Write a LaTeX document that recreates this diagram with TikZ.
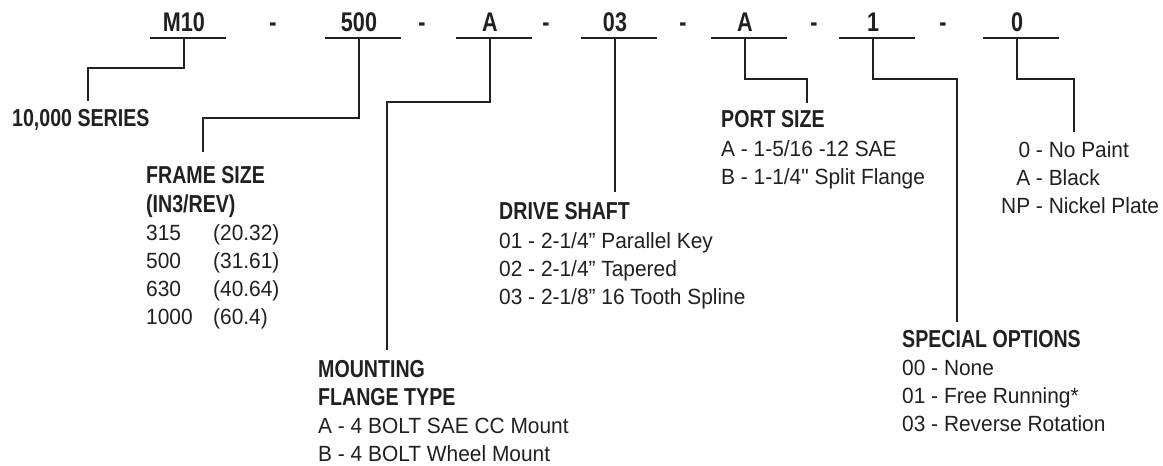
\documentclass[tikz,border=0pt]{standalone}
\usepackage{fontspec}
\usepackage{tikz}
\usetikzlibrary{positioning, calc}
\newfontfamily\codefont[FakeStretch=0.80]{Liberation Sans}
\newfontfamily\bodyfont[FakeStretch=0.95]{Liberation Sans}
\definecolor{ink}{HTML}{231F20}
\newcommand{\hd}{\codefont\fontsize{24.5}{28}\selectfont\bfseries}

\begin{document}
\begin{tikzpicture}[x=1pt, y=-1pt,
  code/.style={font=\codefont\fontsize{27}{30}\selectfont\bfseries, text=ink,
    inner xsep=0pt, inner ysep=6pt, anchor=south},
  lbl/.style={font=\bodyfont\fontsize{22}{28}\selectfont, text=ink,
    align=left, inner sep=0pt, anchor=north west},
  rule/.style={draw=ink, line width=2.4pt},
  lead/.style={draw=ink, line width=2.4pt, line join=miter}]
  \useasboundingbox (0,0) rectangle (1163,466);

  % model code
  \node[code] (m10) at (184,38) {M10};
  \node[code] (sz)  at (359,38) {500};
  \node[code] (mt)  at (490,38) {A};
  \node[code] (ds)  at (615,38) {03};
  \node[code] (ps)  at (745,38) {A};
  \node[code] (so)  at (873,38) {1};
  \node[code] (pt)  at (1017,38) {0};
  \foreach \n in {m10,sz,mt,ds,ps,so,pt}
    \draw[rule] ([xshift=-34pt]\n.south) -- ([xshift=42pt]\n.south);
  \foreach \x [count=\i] in {273,422,546,683,814,943}
    \node[code] (dash\i) at (\x,38) {-};

  % option blocks
  \node[lbl, anchor=base west] (series) at (12,126) {\hd 10,000 SERIES};
  \node[lbl] (frame) at (146,166) {{\hd FRAME SIZE}\\[1.5pt]{\hd (IN3/REV)}\\
    \makebox[67pt][l]{315}(20.32)\\ \makebox[67pt][l]{500}(31.61)\\
    \makebox[67pt][l]{630}(40.64)\\ \makebox[67pt][l]{1000}(60.4)};
  \node[lbl] (mount) at (318,360) {{\hd MOUNTING}\\{\hd FLANGE TYPE}\\
    A - 4 BOLT SAE CC Mount\\ B - 4 BOLT Wheel Mount};
  \node[lbl] (drive) at (499,202) {{\hd DRIVE SHAFT}\\[1pt]
    01 - 2-1/4” Parallel Key\\ 02 - 2-1/4” Tapered\\ 03 - 2-1/8” 16 Tooth Spline};
  \node[lbl] (port) at (721,110) {{\hd PORT SIZE}\\[1.5pt]
    A - 1-5/16 -12 SAE\\ B - 1-1/4" Split Flange};
  \node[lbl] (special) at (902,330) {{\hd SPECIAL OPTIONS}\\
    00 - None\\ 01 - Free Running*\\ 03 - Reverse Rotation};
  \node[lbl] (paint) at (1002,141) {\makebox[28pt][r]{0} - No Paint\\
    \makebox[28pt][r]{A} - Black\\ \makebox[28pt][r]{NP} - Nickel Plate};

  % leaders
  \draw[lead] (m10.south) -- ++(0,30) -| ([xshift=76pt,yshift=8pt]series.north west);
  \draw[lead] (sz.south) -- ++(0,80) -| ([xshift=57pt,yshift=14pt]frame.north west);
  \draw[lead] (mt.south) -- ++(0,64) -| ([xshift=69pt,yshift=10pt]mount.north west);
  \draw[lead] (ds.south) -- ([xshift=116pt,yshift=10pt]drive.north west);
  \draw[lead] (ps.south) -- ++(0,41) -| ([xshift=86pt,yshift=7pt]port.north west);
  \draw[lead] (so.south) -- ++(0,41) -| ([xshift=55pt,yshift=8pt]special.north west);
  \draw[lead] (pt.south) -- ++(0,41) -| ([xshift=72pt,yshift=9pt]paint.north west);
\end{tikzpicture}
\end{document}
